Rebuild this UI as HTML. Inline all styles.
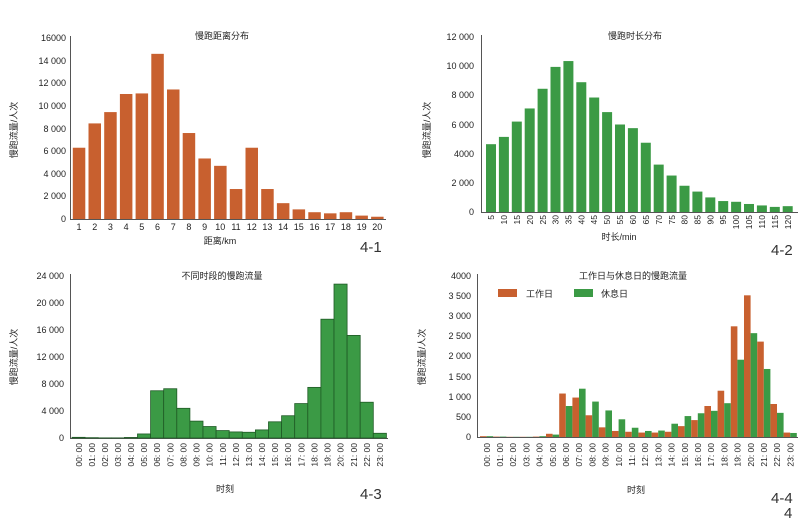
<!DOCTYPE html><html><head><meta charset="utf-8"><style>
body{margin:0;background:#fff;width:800px;height:519px;overflow:hidden}
svg text{font-family:"Liberation Sans","Noto Sans CJK SC",sans-serif;fill:#222}
.t{font-size:9px;text-anchor:end}
.x{font-size:9px;text-anchor:middle}
.r{font-size:8.5px;text-anchor:end}
.ti{font-size:9px;text-anchor:middle}
.n{font-size:15px;fill:#333}
</style></head><body>
<svg id="s" width="800" height="519" xmlns="http://www.w3.org/2000/svg">
<g stroke="#555" stroke-width="1" fill="none">
<path d="M70.5 36V219.5H386"/><path d="M481.5 35V212.5H798"/><path d="M70.5 274V438.5H388"/><path d="M477.5 274V437.5H798"/>
</g>
<g id="bars"></g>
<!-- chart1 -->
<text class="ti" x="222" y="39">慢跑距离分布</text>
<g class="t"><text x="66" y="222">0</text><text x="66" y="199">2 000</text><text x="66" y="177">4 000</text><text x="66" y="154">6 000</text><text x="66" y="132">8 000</text><text x="66" y="109">10 000</text><text x="66" y="86">12 000</text><text x="66" y="64">14 000</text><text x="66" y="41">16000</text></g>
<g class="x"><text x="79" y="230">1</text><text x="94.7" y="230">2</text><text x="110.4" y="230">3</text><text x="126.1" y="230">4</text><text x="141.8" y="230">5</text><text x="157.5" y="230">6</text><text x="173.2" y="230">7</text><text x="188.9" y="230">8</text><text x="204.6" y="230">9</text><text x="220.3" y="230">10</text><text x="236" y="230">11</text><text x="251.7" y="230">12</text><text x="267.4" y="230">13</text><text x="283.1" y="230">14</text><text x="298.8" y="230">15</text><text x="314.5" y="230">16</text><text x="330.2" y="230">17</text><text x="345.9" y="230">18</text><text x="361.6" y="230">19</text><text x="377.3" y="230">20</text></g>
<text class="x" x="220" y="244">距离/km</text>
<text class="x" transform="rotate(-90 17 130)" x="17" y="130">慢跑流量/人次</text>
<text class="n" x="360" y="252">4-1</text>
<!-- chart2 -->
<text class="ti" x="635" y="39">慢跑时长分布</text>
<g class="t"><text x="474" y="215">0</text><text x="474" y="186">2 000</text><text x="474" y="157">4000</text><text x="474" y="128">6 000</text><text x="474" y="98">8 000</text><text x="474" y="69">10 000</text><text x="474" y="40">12 000</text></g>
<g class="r">
<text transform="rotate(-90 494 215)" x="494" y="215">5</text><text transform="rotate(-90 507 215)" x="507" y="215">10</text><text transform="rotate(-90 520 215)" x="520" y="215">15</text><text transform="rotate(-90 533 215)" x="533" y="215">20</text><text transform="rotate(-90 546 215)" x="546" y="215">25</text><text transform="rotate(-90 558.5 215)" x="558.5" y="215">30</text><text transform="rotate(-90 571.5 215)" x="571.5" y="215">35</text><text transform="rotate(-90 584.5 215)" x="584.5" y="215">40</text><text transform="rotate(-90 597 215)" x="597" y="215">45</text><text transform="rotate(-90 610 215)" x="610" y="215">50</text><text transform="rotate(-90 623 215)" x="623" y="215">55</text><text transform="rotate(-90 636 215)" x="636" y="215">60</text><text transform="rotate(-90 649 215)" x="649" y="215">65</text><text transform="rotate(-90 662 215)" x="662" y="215">70</text><text transform="rotate(-90 675 215)" x="675" y="215">75</text><text transform="rotate(-90 687.5 215)" x="687.5" y="215">80</text><text transform="rotate(-90 700.5 215)" x="700.5" y="215">85</text><text transform="rotate(-90 713.5 215)" x="713.5" y="215">90</text><text transform="rotate(-90 726 215)" x="726" y="215">95</text><text transform="rotate(-90 739 215)" x="739" y="215">100</text><text transform="rotate(-90 752 215)" x="752" y="215">105</text><text transform="rotate(-90 765 215)" x="765" y="215">110</text><text transform="rotate(-90 778 215)" x="778" y="215">115</text><text transform="rotate(-90 791 215)" x="791" y="215">120</text></g>
<text class="x" x="619" y="240">时长/min</text>
<text class="x" transform="rotate(-90 430 130)" x="430" y="130">慢跑流量/人次</text>
<text class="n" x="771" y="255">4-2</text>
<!-- chart3 -->
<text class="ti" x="222" y="279">不同时段的慢跑流量</text>
<g class="t"><text x="64" y="441">0</text><text x="64" y="414">4 000</text><text x="64" y="387">8 000</text><text x="64" y="360">12 000</text><text x="64" y="333">16 000</text><text x="64" y="306">20 000</text><text x="64" y="279">24 000</text></g>
<g class="r">
<text transform="rotate(-90 82 443)" x="82" y="443">00: 00</text><text transform="rotate(-90 95 443)" x="95" y="443">01: 00</text><text transform="rotate(-90 108 443)" x="108" y="443">02: 00</text><text transform="rotate(-90 121 443)" x="121" y="443">03: 00</text><text transform="rotate(-90 134 443)" x="134" y="443">04: 00</text><text transform="rotate(-90 147 443)" x="147" y="443">05: 00</text><text transform="rotate(-90 160 443)" x="160" y="443">06: 00</text><text transform="rotate(-90 173.5 443)" x="173.5" y="443">07: 00</text><text transform="rotate(-90 186.5 443)" x="186.5" y="443">08: 00</text><text transform="rotate(-90 199.5 443)" x="199.5" y="443">09: 00</text><text transform="rotate(-90 212.5 443)" x="212.5" y="443">10: 00</text><text transform="rotate(-90 226 443)" x="226" y="443">11: 00</text><text transform="rotate(-90 239 443)" x="239" y="443">12: 00</text><text transform="rotate(-90 252 443)" x="252" y="443">13: 00</text><text transform="rotate(-90 265 443)" x="265" y="443">14: 00</text><text transform="rotate(-90 278 443)" x="278" y="443">15: 00</text><text transform="rotate(-90 291 443)" x="291" y="443">16: 00</text><text transform="rotate(-90 304.5 443)" x="304.5" y="443">17: 00</text><text transform="rotate(-90 317.5 443)" x="317.5" y="443">18: 00</text><text transform="rotate(-90 330.5 443)" x="330.5" y="443">19: 00</text><text transform="rotate(-90 343.5 443)" x="343.5" y="443">20: 00</text><text transform="rotate(-90 357 443)" x="357" y="443">21: 00</text><text transform="rotate(-90 370 443)" x="370" y="443">22: 00</text><text transform="rotate(-90 383 443)" x="383" y="443">23: 00</text></g>
<text class="x" x="225" y="492">时刻</text>
<text class="x" transform="rotate(-90 17 357)" x="17" y="357">慢跑流量/人次</text>
<text class="n" x="360" y="499">4-3</text>
<!-- chart4 -->
<text class="ti" x="633" y="279">工作日与休息日的慢跑流量</text>
<rect x="498" y="289" width="19" height="8" fill="#c8602f"/><text x="526" y="297" style="font-size:9px">工作日</text>
<rect x="574" y="289" width="19" height="8" fill="#3b9a45"/><text x="601" y="297" style="font-size:9px">休息日</text>
<g class="t"><text x="471" y="440">0</text><text x="471" y="420">500</text><text x="471" y="400">1 000</text><text x="471" y="380">1 500</text><text x="471" y="359">2 000</text><text x="471" y="339">2 500</text><text x="471" y="319">3 000</text><text x="471" y="299">3 500</text><text x="471" y="279">4000</text></g>
<g class="r">
<text transform="rotate(-90 490 443)" x="490" y="443">00: 00</text><text transform="rotate(-90 503 443)" x="503" y="443">01: 00</text><text transform="rotate(-90 516 443)" x="516" y="443">02: 00</text><text transform="rotate(-90 529.5 443)" x="529.5" y="443">03: 00</text><text transform="rotate(-90 542.5 443)" x="542.5" y="443">04: 00</text><text transform="rotate(-90 556 443)" x="556" y="443">05: 00</text><text transform="rotate(-90 569 443)" x="569" y="443">06: 00</text><text transform="rotate(-90 582 443)" x="582" y="443">07: 00</text><text transform="rotate(-90 595.5 443)" x="595.5" y="443">08: 00</text><text transform="rotate(-90 608.5 443)" x="608.5" y="443">09: 00</text><text transform="rotate(-90 622 443)" x="622" y="443">10: 00</text><text transform="rotate(-90 635 443)" x="635" y="443">11: 00</text><text transform="rotate(-90 648 443)" x="648" y="443">12: 00</text><text transform="rotate(-90 661.5 443)" x="661.5" y="443">13: 00</text><text transform="rotate(-90 674.5 443)" x="674.5" y="443">14: 00</text><text transform="rotate(-90 688 443)" x="688" y="443">15: 00</text><text transform="rotate(-90 701 443)" x="701" y="443">16: 00</text><text transform="rotate(-90 714 443)" x="714" y="443">17: 00</text><text transform="rotate(-90 727.5 443)" x="727.5" y="443">18: 00</text><text transform="rotate(-90 740.5 443)" x="740.5" y="443">19: 00</text><text transform="rotate(-90 754 443)" x="754" y="443">20: 00</text><text transform="rotate(-90 767 443)" x="767" y="443">21: 00</text><text transform="rotate(-90 780 443)" x="780" y="443">22: 00</text><text transform="rotate(-90 793.5 443)" x="793.5" y="443">23: 00</text></g>
<text class="x" x="636" y="493">时刻</text>
<text class="x" transform="rotate(-90 425 357)" x="425" y="357">慢跑流量/人次</text>
<text class="n" x="771" y="503">4-4</text>
<text class="n" x="784" y="518">4</text>
</svg>
<script>
var g=document.getElementById('bars'),NS='http://www.w3.org/2000/svg';
function R(x,y,w,h,f,s){var r=document.createElementNS(NS,'rect');r.setAttribute('x',x);r.setAttribute('y',y);r.setAttribute('width',w);r.setAttribute('height',h);r.setAttribute('fill',f);if(s){r.setAttribute('stroke',s);r.setAttribute('stroke-width','0.8');}g.appendChild(r);}
var O='#c8602f',G='#3b9a45';
[6300,8450,9450,11050,11100,14600,11450,7600,5350,4700,2650,6300,2650,1400,850,600,500,600,300,200].forEach(function(v,i){var h=v*181/16000;R(72.8+i*15.7,219-h,12.5,h,O);});
[4650,5150,6200,7100,8450,9950,10350,8900,7850,6850,6000,5750,4750,3250,2500,1800,1400,1000,750,700,550,450,350,400].forEach(function(v,i){var h=v*175/12000;R(486+i*12.9,212-h,10,h,G);});
[100,50,20,20,80,600,7000,7300,4400,2500,1700,1100,900,850,1200,2400,3300,5100,7500,17600,22800,15200,5300,700].forEach(function(v,i){var h=v*162/24000;R(72+i*13.1,438-h,13.1,h,G,'#1f5a25');});
var W=[20,10,5,5,10,80,1080,980,540,240,150,130,110,110,130,270,420,770,1150,2750,3520,2370,820,110],H=[20,10,5,5,20,60,770,1200,880,660,440,230,150,160,330,520,590,650,840,1920,2580,1690,600,100];
for(var i=0;i<24;i++){var a=W[i]*161/4000,b=H[i]*161/4000;R(480+i*13.2,437-a,6.6,a,O);R(486.6+i*13.2,437-b,6.6,b,G);}
</script>
</body></html>
